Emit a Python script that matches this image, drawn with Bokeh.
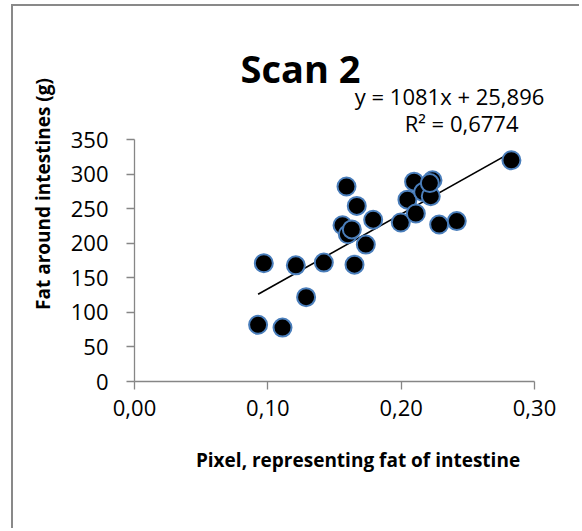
from bokeh.plotting import figure
from bokeh.models import FixedTicker, Label, Range1d
from bokeh.embed import file_html
from bokeh.resources import INLINE

# ---- data ----
pixel = [0.0927, 0.111, 0.097, 0.121, 0.1287, 0.142, 0.156, 0.159, 0.160, 0.163,
         0.165, 0.1667, 0.1735, 0.179, 0.1997, 0.2047, 0.2097, 0.211, 0.2165,
         0.2222, 0.2235, 0.2215, 0.2285, 0.2417, 0.2827]
fat = [82, 78, 171, 168, 122, 172, 226, 282, 213, 220,
       169, 254, 198, 234, 230, 263, 289, 243, 274,
       268, 291, 287, 227, 232, 320]
slope = 1081
intercept = 25.896
eq_text = "y = 1081x + 25,896"
r2_text = "R² = 0,6774"
title_text = "Scan 2"
x_ticks = [0.0, 0.1, 0.2, 0.3]
x_tick_labels = ["0,00", "0,10", "0,20", "0,30"]
y_ticks = [0, 50, 100, 150, 200, 250, 300, 350]

FONT = "Open Sans"

# layout: the frame extends to the top/right canvas edges so that the
# title and trendline labels can be drawn inside it; axes are bounded.
CANVAS_W, CANVAS_H = 568, 524
LEFT = 121
FH = 375
BOTTOM = CANVAS_H - FH
FW = CANVAS_W - LEFT
X_PX = 400 / 0.3      # pixels per x unit
Y_PX = 242 / 350      # pixels per y unit

p = figure(frame_width=FW, frame_height=FH,
           min_border_left=LEFT, min_border_right=0,
           min_border_top=0, min_border_bottom=BOTTOM,
           x_range=Range1d(0, FW / X_PX), y_range=Range1d(0, FH / Y_PX),
           output_backend="svg", toolbar_location=None)
# chart-area frame (only its left and top edges are inside the picture)
p.styles = {"box-shadow": "-2px -2px 0 0 #898989, 2px 2px 0 0 #ffffff",
            "position": "relative", "top": "6px", "left": "13px"}
p.outline_line_color = None
p.xgrid.visible = False
p.ygrid.visible = False
p.background_fill_color = "white"
p.border_fill_color = "white"

for ax in (p.xaxis, p.yaxis):
    ax.axis_line_color = "#868686"
    ax.axis_line_width = 1.3
    ax.major_tick_line_color = "#868686"
    ax.major_tick_line_width = 1.3
    ax.major_tick_out = 8
    ax.major_tick_in = 0
    ax.minor_tick_line_color = None
    ax.major_label_text_font = FONT
    ax.major_label_text_font_size = "22px"
    ax.major_label_text_color = "black"
    ax.axis_label_text_font = FONT
    ax.axis_label_text_font_style = "bold"
    ax.axis_label_text_font_size = "19px"
    ax.axis_label_text_color = "black"

p.xaxis.ticker = FixedTicker(ticks=x_ticks)
p.xaxis.bounds = (x_ticks[0], x_ticks[-1])
p.xaxis.major_label_overrides = {t: l for t, l in zip(x_ticks, x_tick_labels)}
p.yaxis.ticker = FixedTicker(ticks=y_ticks)
p.yaxis.bounds = (y_ticks[0], y_ticks[-1])
p.xaxis.axis_label = "Pixel, representing fat of intestine"
p.yaxis.axis_label = "Fat around intestines (g)"
p.xaxis.major_label_standoff = 10
p.yaxis.major_label_standoff = 18
p.xaxis.axis_label_standoff = 28
p.yaxis.axis_label_standoff = 12

# trendline
x0, x1 = min(pixel), max(pixel)
p.line([x0, x1], [slope * x0 + intercept, slope * x1 + intercept],
       line_color="black", line_width=1.6)

p.scatter(pixel, fat, size=18, marker="circle", fill_color="black",
          line_color="#4a7ebb", line_width=2)

p.add_layout(Label(x=0.1245, y=452.7, text=title_text, text_align="center",
                   text_baseline="alphabetic", text_font=FONT,
                   text_font_style="bold", text_font_size="38px", text_color="black"))
p.add_layout(Label(x=0.2363, y=413.6, text=eq_text, text_align="center",
                   text_baseline="middle", text_font=FONT,
                   text_font_size="22px", text_color="black"))
p.add_layout(Label(x=0.2453, y=373.2, text=r2_text, text_align="center",
                   text_baseline="middle", text_font=FONT,
                   text_font_size="22px", text_color="black"))

open("out.html", "w").write(file_html(p, INLINE))
